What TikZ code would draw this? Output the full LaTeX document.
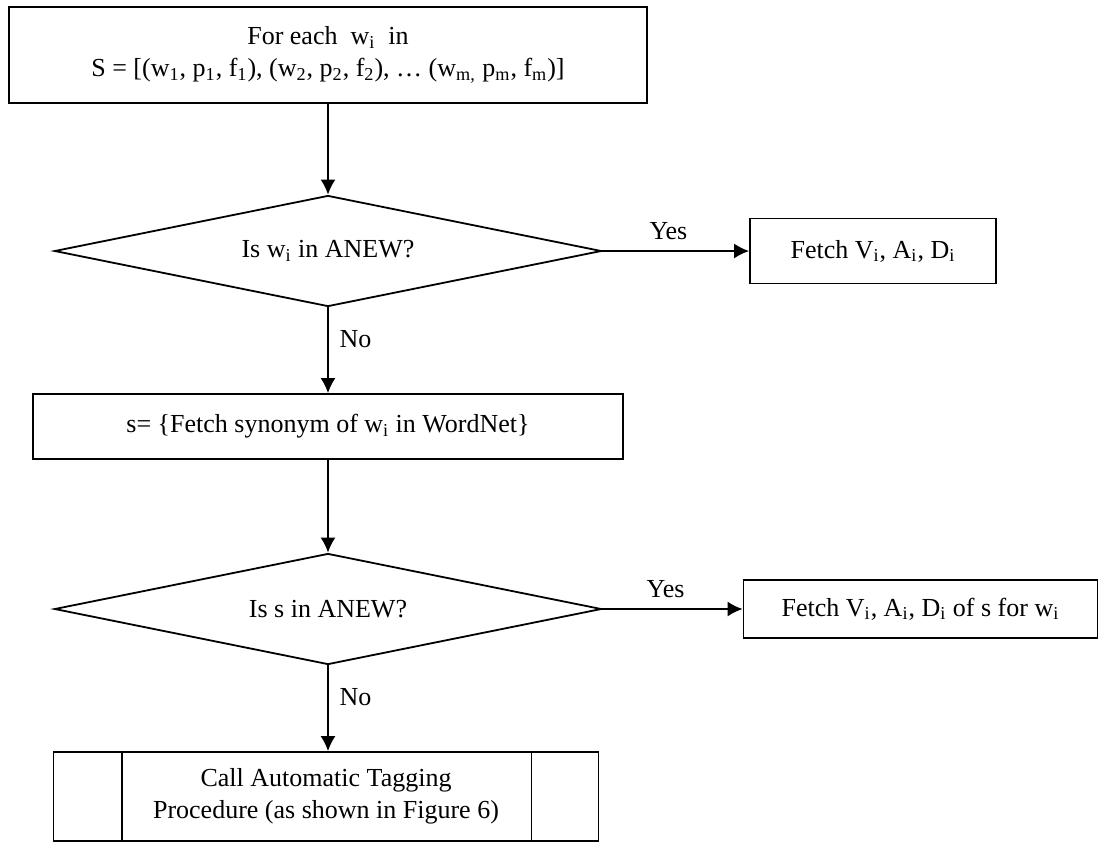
\documentclass[tikz,border=0pt]{standalone}
\usepackage{fontspec}
\setmainfont{Liberation Serif}
\usepackage{tikz}
\usetikzlibrary{shapes.geometric, arrows.meta}
\newcommand{\sub}[1]{\textsubscript{#1}}

\begin{document}
\begin{tikzpicture}[x=0.5pt,y=-0.5pt, >={Latex[length=7.5pt,width=7.5pt]}, ->,
    line width=0.9pt,
    font=\fontsize{13}{16}\selectfont,
    box/.style={draw, rectangle, align=center, inner sep=0pt},
    test/.style={draw, diamond, aspect=5, inner sep=0pt, minimum width=273.5pt, minimum height=55.5pt}]
    \useasboundingbox (0,0) rectangle (1099,843);

    \node[box, minimum width=319pt, minimum height=48pt](0) at (328,55)
        {For each\ \ w\sub{i}\ \ in\\S = [(w\sub{1}, p\sub{1}, f\sub{1}), (w\sub{2}, p\sub{2}, f\sub{2}), \dots\ (w\sub{m,} p\sub{m}, f\sub{m})]};
    \node[test](1) at (328,251) {Is w\sub{i} in ANEW?};
    \node[box, minimum width=123pt, minimum height=32.5pt](2) at (873,251) {Fetch V\sub{i}, A\sub{i}, D\sub{i}};
    \node[box, minimum width=295pt, minimum height=32.5pt](3) at (328,426.5) {s= \{Fetch synonym of w\sub{i} in WordNet\}};
    \node[test](4) at (328,609) {Is s in ANEW?};
    \node[box, minimum width=177pt, minimum height=29pt](5) at (920.5,609) {Fetch V\sub{i}, A\sub{i}, D\sub{i} of s for w\sub{i}};
    \node[box, minimum width=272.5pt, minimum height=44.5pt](6) at (326,796.5)
        {Call Automatic Tagging\\Procedure (as shown in Figure 6)};
    \draw[-]([xshift=34.5pt]6.north west)--([xshift=34.5pt]6.south west);
    \draw[-]([xshift=-34pt]6.north east)--([xshift=-34pt]6.south east);

    \draw(0)--(1);
    \draw(1)--(2) node[pos=0.45, above=2pt]{Yes};
    \draw(1)--(3) node[pos=0.37, right=2pt]{No};
    \draw(3)--(4);
    \draw(4)--(5) node[pos=0.45, above=2pt]{Yes};
    \draw(4)--(4|-6.north) node[pos=0.37, right=2pt]{No};
\end{tikzpicture}
\end{document}
